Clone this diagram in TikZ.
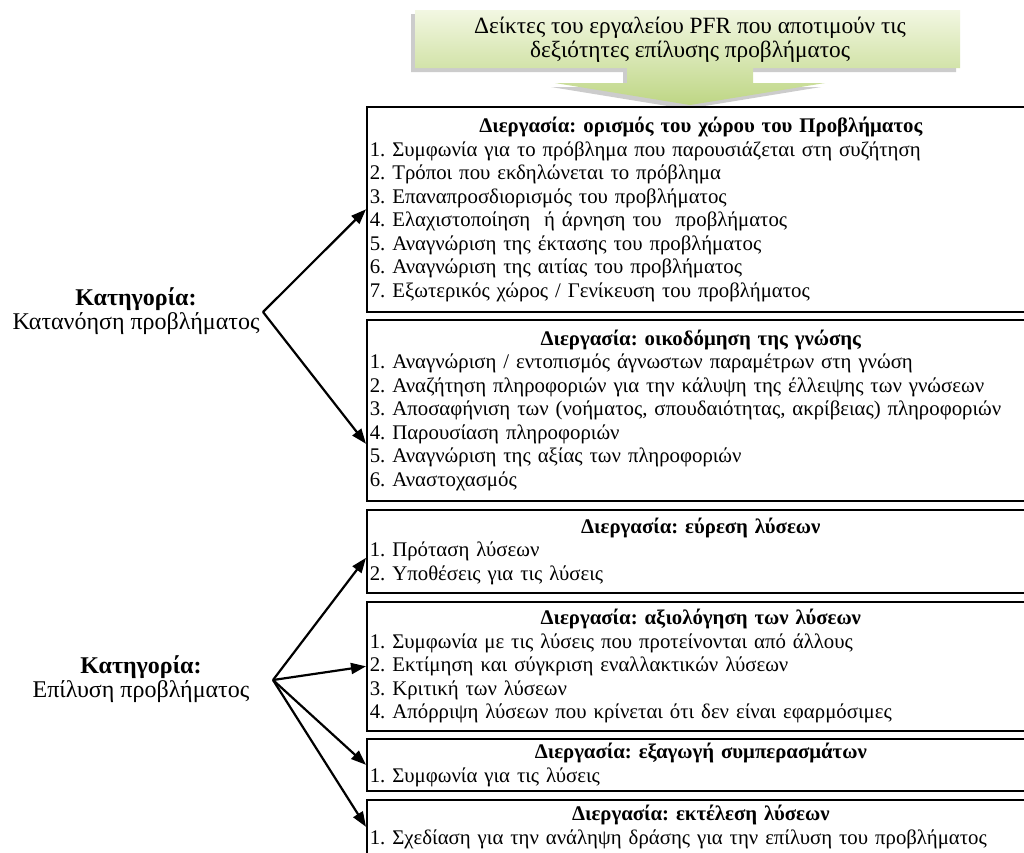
\documentclass[tikz,border=0pt]{standalone}
\usepackage{fontspec}
\setmainfont{Liberation Serif}
\usetikzlibrary{arrows.meta}
\definecolor{gtop}{RGB}{242,247,226}
\definecolor{gbot}{RGB}{190,214,132}
\newcommand\procHead[1]{\makebox[662pt]{\bfseries #1}}
\frenchspacing
\begin{document}
\begin{tikzpicture}[x=1pt,y=-1pt,
  font=\fontsize{20.8}{23.5}\selectfont,
  procbox/.style={draw, line width=1.6pt, anchor=north west, fill=white,
    text width=662pt, inner xsep=3pt, inner ysep=0pt, align=left},
  catlabel/.style={align=center, inner sep=0pt, font=\fontsize{24}{24}\selectfont},
  arr/.style={line width=2.2pt, -{Triangle[length=15pt,width=11pt]}}]
\useasboundingbox (0,0) rectangle (1024,852);
\clip (0,0) rectangle (1024,852);
\fill[white] (0,0) rectangle (1024,852);

% top callout
\fill[gray!40, shift={(-4,4)}] (415,10) -- (960,10) -- (960,68) -- (753,68) -- (753,83) -- (825,83) -- (690,105) -- (555,83) -- (627,83) -- (627,68) -- (415,68) -- cycle;
\shade[top color=gtop, bottom color=gbot] (415,10) -- (960,10) -- (960,68) -- (753,68) -- (753,83) -- (825,83) -- (690,105) -- (555,83) -- (627,83) -- (627,68) -- (415,68) -- cycle;
\node[align=center, inner sep=0pt, font=\fontsize{23.3}{24}\selectfont] (ttl) at (690,40) {Δείκτες του εργαλείου PFR που αποτιμούν τις\\δεξιότητες επίλυσης προβλήματος};

% process boxes
\node[procbox, minimum height=205pt] (b1) at (366,106) {\procHead{Διεργασία: ορισμός του χώρου του Προβλήματος}\\
1. Συμφωνία για το πρόβλημα που παρουσιάζεται στη συζήτηση\\
2. Τρόποι που εκδηλώνεται το πρόβλημα\\
3. Επαναπροσδιορισμός του προβλήματος\\
4. Ελαχιστοποίηση\ \ ή άρνηση του\ \ προβλήματος\\
5. Αναγνώριση της έκτασης του προβλήματος\\
6. Αναγνώριση της αιτίας του προβλήματος\\
7. Εξωτερικός χώρος / Γενίκευση του προβλήματος};

\node[procbox, minimum height=181pt] (b2) at (366,319) {\procHead{Διεργασία: οικοδόμηση της γνώσης}\\
1. Αναγνώριση / εντοπισμός άγνωστων παραμέτρων στη γνώση\\
2. Αναζήτηση πληροφοριών για την κάλυψη της έλλειψης των γνώσεων\\
3. Αποσαφήνιση των (νοήματος, σπουδαιότητας, ακρίβειας) πληροφοριών\\
4. Παρουσίαση πληροφοριών\\
5. Αναγνώριση της αξίας των πληροφοριών\\
6. Αναστοχασμός};

\node[procbox, minimum height=83pt] (b3) at (366,509) {\procHead{Διεργασία: εύρεση λύσεων}\\
1. Πρόταση λύσεων\\
2. Υποθέσεις για τις λύσεις};

\node[procbox, minimum height=129pt] (b4) at (366,601) {\procHead{Διεργασία: αξιολόγηση των λύσεων}\\
1. Συμφωνία με τις λύσεις που προτείνονται από άλλους\\
2. Εκτίμηση και σύγκριση εναλλακτικών λύσεων\\
3. Κριτική των λύσεων\\
4. Απόρριψη λύσεων που κρίνεται ότι δεν είναι εφαρμόσιμες};

\node[procbox, minimum height=52pt] (b5) at (366,738) {\procHead{Διεργασία: εξαγωγή συμπερασμάτων}\\
1. Συμφωνία για τις λύσεις};

\node[procbox, minimum height=54pt] (b6) at (366,799) {\procHead{Διεργασία: εκτέλεση λύσεων}\\
1. Σχεδίαση για την ανάληψη δράσης για την επίλυση του προβλήματος};

% categories
\node[catlabel] (c1) at (136,311) {\textbf{Κατηγορία:}\\Κατανόηση προβλήματος};
\node[catlabel] (c2) at (141,679) {\textbf{Κατηγορία:}\\Επίλυση προβλήματος};
\coordinate (a1) at (263,312);
\coordinate (a2) at (273,680);

% connectors
\draw[arr] (a1) -- (b1.west);
\draw[arr] (a1) -- ([yshift=-33.5pt]b2.west);
\draw[arr] (a2) -- ([yshift=-6.5pt]b3.west);
\draw[arr] (a2) -- (b4.west);
\draw[arr] (a2) -- (b5.west);
\draw[arr] (a2) -- (b6.west);
\end{tikzpicture}
\end{document}
